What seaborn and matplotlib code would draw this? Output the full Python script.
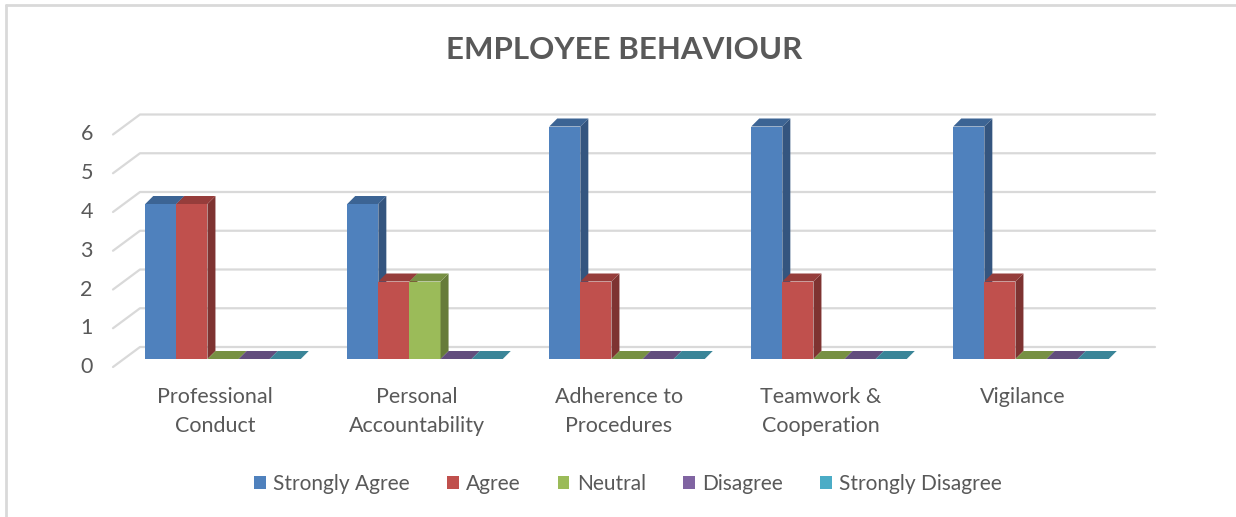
import matplotlib
matplotlib.use('Agg')
import matplotlib.pyplot as plt
import matplotlib.transforms as mtransforms
from matplotlib.patches import Polygon, Patch
from matplotlib.lines import Line2D
import seaborn as sns
import pandas as pd

categories = ["Professional\nConduct", "Personal\nAccountability", "Adherence to\nProcedures",
              "Teamwork &\nCooperation", "Vigilance"]
responses = ["Strongly Agree", "Agree", "Neutral", "Disagree", "Strongly Disagree"]
strongly_agree = [4, 4, 6, 6, 6]
agree = [4, 2, 2, 2, 2]
neutral = [0, 2, 0, 0, 0]
disagree = [0, 0, 0, 0, 0]
strongly_disagree = [0, 0, 0, 0, 0]
y_ticks = [0, 1, 2, 3, 4, 5, 6]

colors = ["#4F81BD", "#C0504D", "#9BBB59", "#8064A2", "#4BACC6"]
tops = ["#3C6494", "#963D3B", "#779043", "#624D7D", "#3A8598"]
sides = ["#34557F", "#7E3331", "#667B39", "#53416A", "#317183"]

rows = []
for resp, vals in zip(responses, [strongly_agree, agree, neutral, disagree, strongly_disagree]):
    for cat, v in zip(categories, vals):
        rows.append({"Category": cat, "Response": resp, "Count": v})
df = pd.DataFrame(rows)

sns.set_style("white")
plt.rcParams['font.family'] = ['Lato', 'DejaVu Sans']
text_color = "#595959"

W, H = 1236, 517
fig = plt.figure(figsize=(W / 100, H / 100), dpi=100)
ax_left, ax_right, ax_bottom, ax_top = 122, 1132, 370, 100
ax = fig.add_axes([ax_left / W, 1 - ax_bottom / H, (ax_right - ax_left) / W, (ax_bottom - ax_top) / H])

px_y = 38.75                     # pixels per unit on y
px_x = (ax_right - ax_left) / 5  # pixels per category
y0_px = 359

sns.barplot(df, x="Category", y="Count", hue="Response", hue_order=responses,
            palette=colors, width=0.77, gap=0, saturation=1, linewidth=0,
            legend=False, ax=ax)
ax.set_xlim(-0.5, 4.5)
ax.set_ylim(-(ax_bottom - y0_px) / px_y, (y0_px - ax_top) / px_y)

# back-wall gridlines with a perspective stub on the left
fx0, fx1, fx2 = (113 - ax_left) / 1010, (140 - ax_left) / 1010, (1155 - ax_left) / 1010
front_dy, back_dy = 8 / px_y, 12 / px_y
for v in y_ticks:
    ax.add_line(Line2D([fx0, fx1, fx2], [v - front_dy, v + back_dy, v + back_dy],
                       transform=ax.get_yaxis_transform(), color="#D9D9D9", lw=1.6,
                       zorder=0.5, clip_on=False))

# pseudo-3D faces for every bar
dx, dy = 8 / px_x, 8 / px_y
for i, cont in enumerate(ax.containers):
    for bar in cont:
        x0, w, h = bar.get_x(), bar.get_width(), bar.get_height()
        bar.set_zorder(2 + i)
        top = Polygon([(x0, h), (x0 + w, h), (x0 + w + dx, h + dy), (x0 + dx, h + dy)],
                      closed=True, facecolor=tops[i], edgecolor="none", zorder=2 + i)
        side = Polygon([(x0 + w, 0), (x0 + w, h), (x0 + w + dx, h + dy), (x0 + w + dx, dy)],
                       closed=True, facecolor=sides[i], edgecolor="none", zorder=2 + i)
        ax.add_patch(side)
        ax.add_patch(top)

for s in ax.spines.values():
    s.set_visible(False)
ax.set_xlabel("")
ax.set_ylabel("")
ax.set_yticks(y_ticks)
ax.set_yticklabels([str(v) for v in y_ticks])
ax.tick_params(axis="y", length=0, pad=21, labelsize=15.5, labelcolor=text_color)
ax.tick_params(axis="x", length=0, pad=12, labelsize=15.5, labelcolor=text_color)
shift_y = mtransforms.ScaledTranslation(0, -0.06, fig.dpi_scale_trans)
for lab in ax.get_yticklabels():
    lab.set_transform(lab.get_transform() + shift_y)
shift_x = mtransforms.ScaledTranslation(-0.08, 0, fig.dpi_scale_trans)
for lab in ax.get_xticklabels():
    lab.set_transform(lab.get_transform() + shift_x)
    lab.set_linespacing(1.6)

fig.text(624 / W, 1 - 50 / H, "EMPLOYEE BEHAVIOUR", ha="center", va="center",
         fontsize=22.5, fontweight="bold", color=text_color)

handles = [Patch(facecolor=c, edgecolor="none") for c in colors]
fig.legend(handles, responses, loc="center", bbox_to_anchor=(628 / W, 1 - 484 / H),
           ncol=5, frameon=False, fontsize=15, handlelength=0.55, handleheight=0.6,
           handletextpad=0.35, columnspacing=1.8, labelcolor=text_color)

# chart frame (top and left edges visible)
fig.add_artist(Line2D([6 / W, 1], [1 - 5 / H, 1 - 5 / H], transform=fig.transFigure,
                      color="#D9D9D9", lw=2))
fig.add_artist(Line2D([6 / W, 6 / W], [0, 1 - 5 / H], transform=fig.transFigure,
                      color="#D9D9D9", lw=2))

fig.savefig("out.png", dpi=100)
